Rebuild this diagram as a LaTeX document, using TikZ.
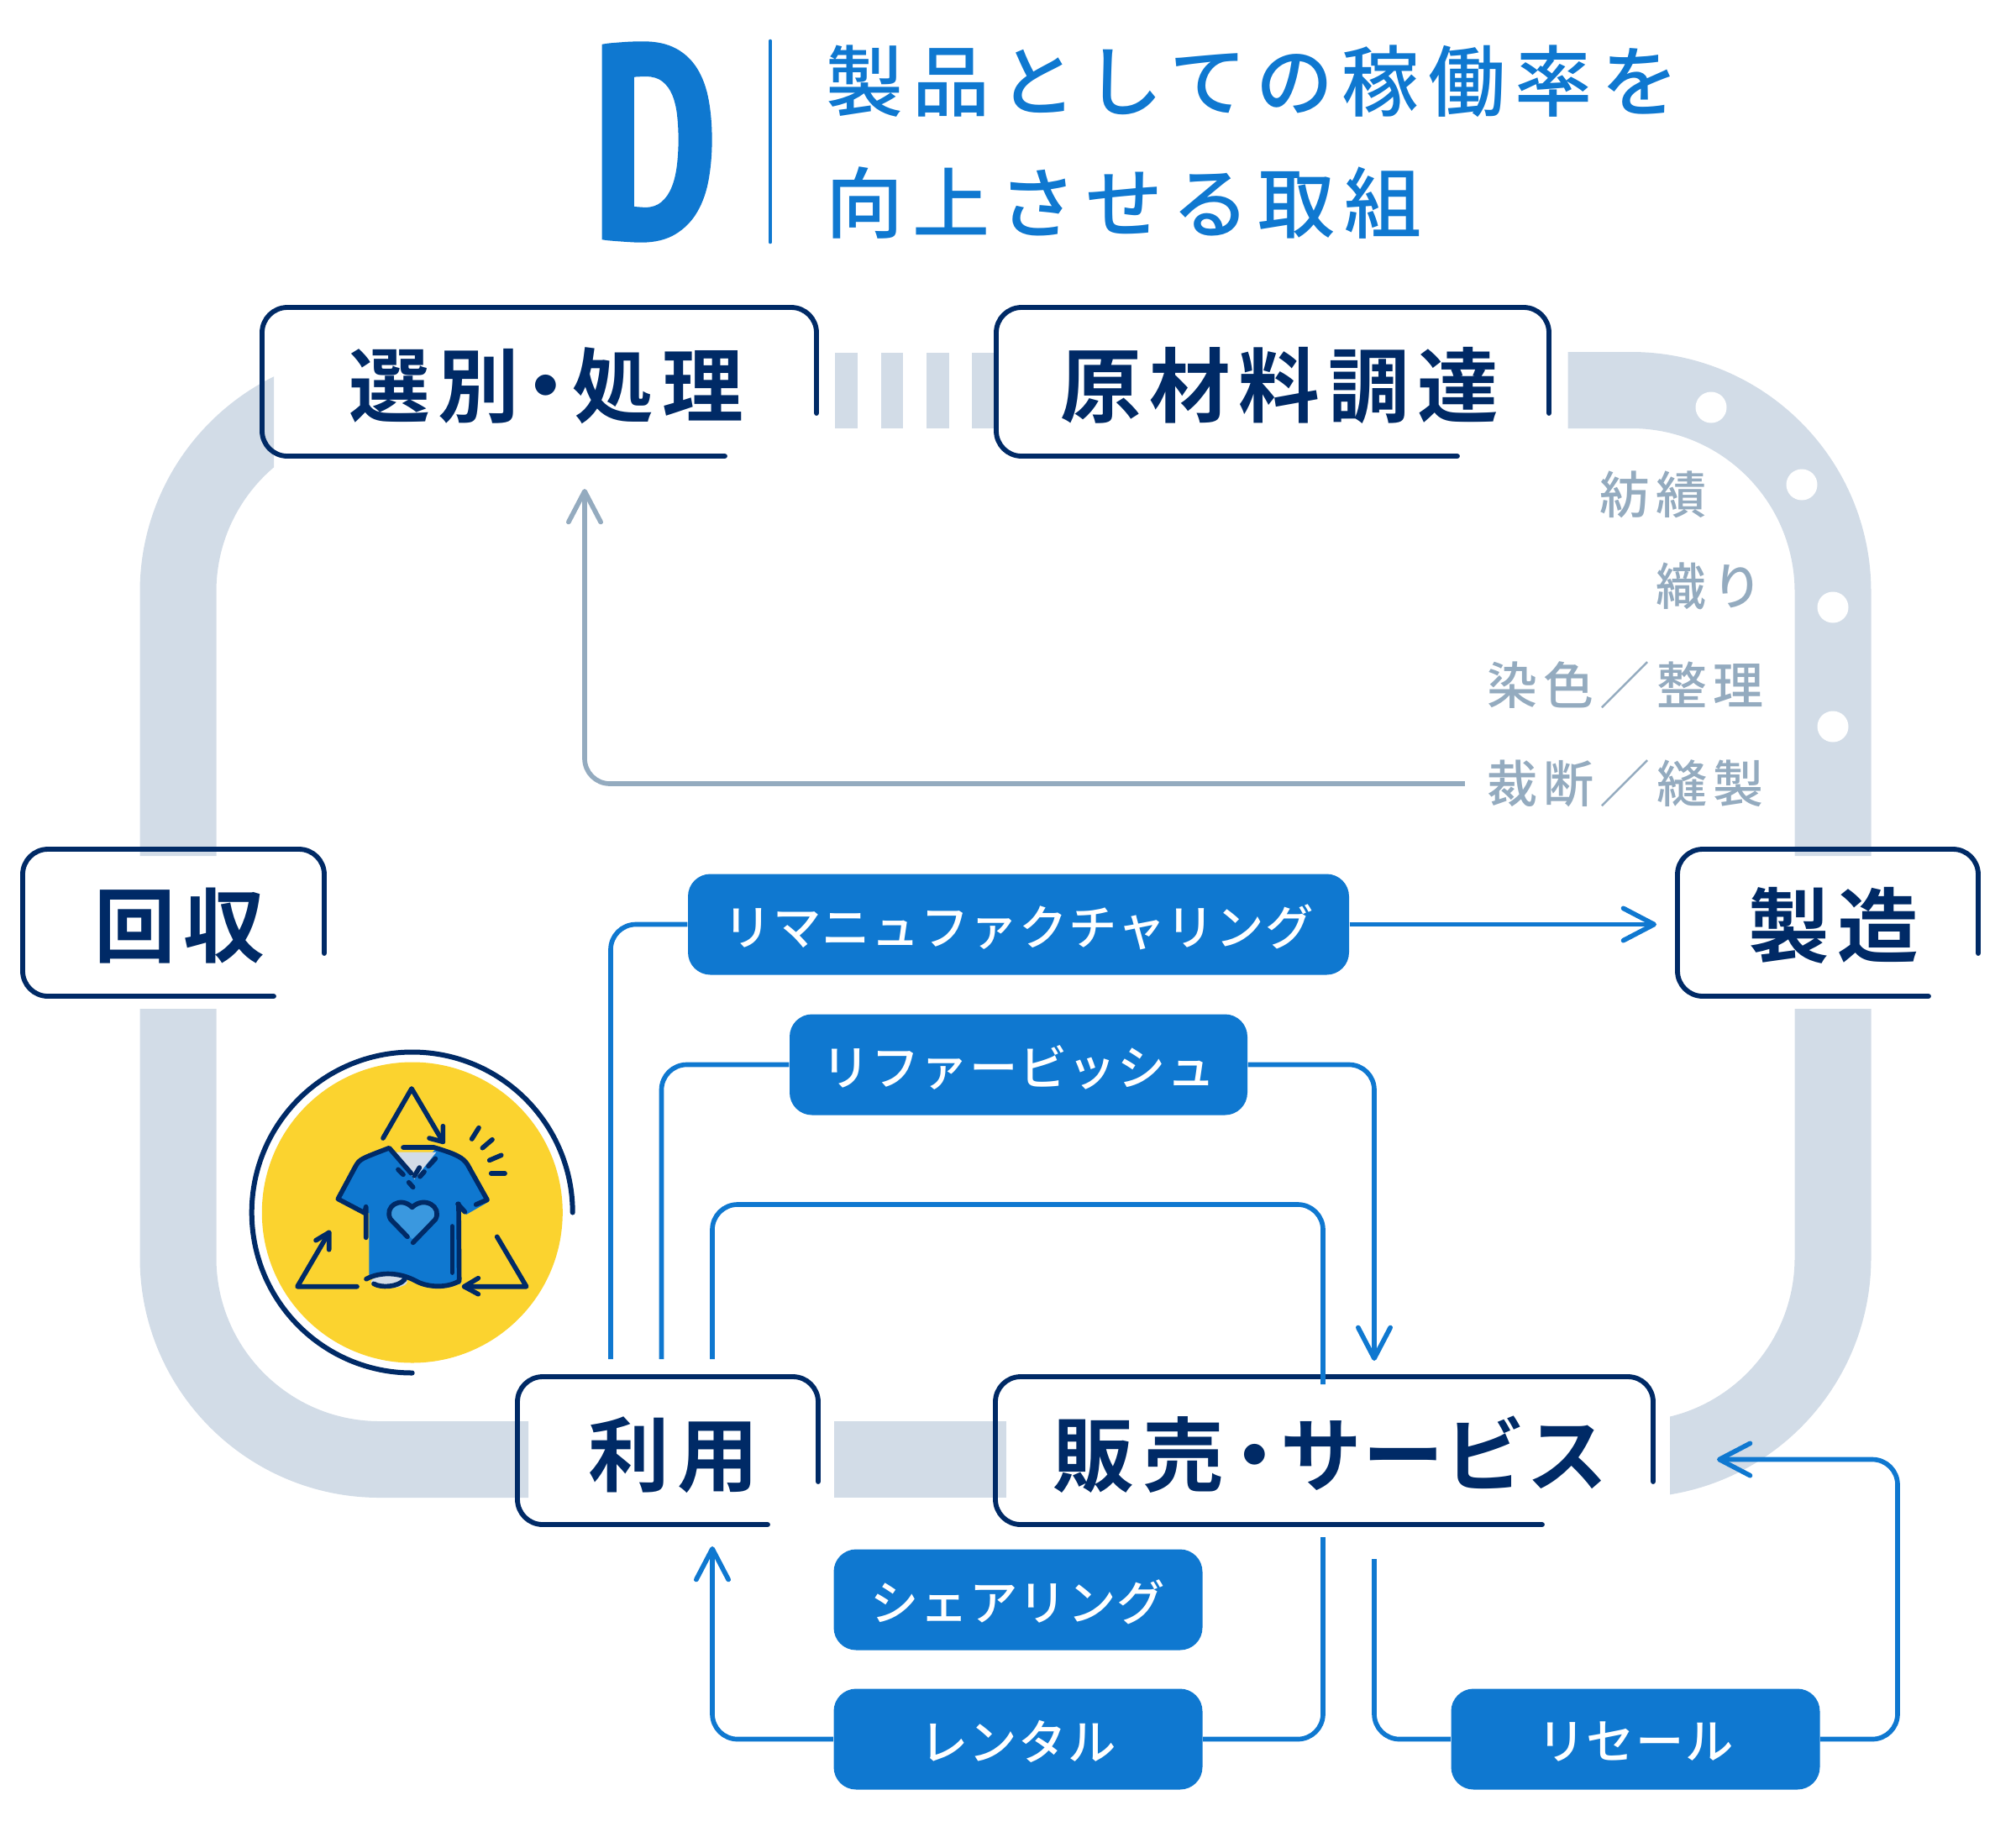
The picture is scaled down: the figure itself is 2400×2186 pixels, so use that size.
\documentclass[tikz,border=0pt]{standalone}
\usepackage{fontspec}
\usetikzlibrary{arrows.meta}
\setmainfont{Noto Sans CJK JP}
\newfontfamily\jpm[LetterSpace=11.8]{Noto Sans CJK JP Medium}
\newfontfamily\jpb[LetterSpace=10]{Noto Sans CJK JP}[BoldFont={Noto Sans CJK JP Bold}]
\newfontfamily\jpp[LetterSpace=2.3]{Noto Sans CJK JP Medium}
\newfontfamily\jpg[LetterSpace=12]{Noto Sans CJK JP Medium}
\newfontfamily\dfont[FakeBold=1.2]{PT Sans Narrow Bold}
\newcommand{\pilltext}[1]{\raisebox{-.9pt}[\height][\depth]{#1}}
\definecolor{navy}{HTML}{002A66}
\definecolor{blue}{HTML}{0F78D0}
\definecolor{track}{HTML}{D2DCE7}
\definecolor{graytxt}{HTML}{94ABBF}
\definecolor{sun}{HTML}{FBD32F}
\definecolor{heart}{HTML}{3A98DF}
\tikzset{
 trackline/.style={draw=track,line width=27.3pt},
 trackrect/.style={fill=track,draw=none},
 boxline/.style={draw=navy,line width=1.75pt,line cap=round,rounded corners=9pt},
 boxtext/.style={font=\fontsize{29}{29}\selectfont\jpb\bfseries,text=navy,inner sep=0pt},
 pill/.style={fill=blue,rounded corners=8pt,text=white,font=\fontsize{17.2}{17.5}\selectfont\jpp,inner sep=0pt,minimum height=36pt},
 conn/.style={draw=blue,line width=1.7pt,rounded corners=9pt},
 arr/.style={-{Straight Barb[length=11pt,width=11.5pt,line width=1.7pt,round]}},
 graytext/.style={font=\fontsize{18}{18}\selectfont\jpg,text=graytxt,inner sep=0pt},
 grayconn/.style={draw=graytxt,line width=1.7pt,rounded corners=9pt},
 icon/.style={draw=navy,line width=1.7pt,line cap=round,line join=round},
}
\newcommand{\obox}[6]{\draw[boxline] (#3,#5) -- (#3,#2) -- (#1,#2) -- (#1,#4) -- (#6,#4);}
\begin{document}
\begin{tikzpicture}[x=0.3pt,y=-0.3pt]
\useasboundingbox (0,0) rectangle (2400,2186);
% track
\draw[trackline] (1866.5,464.5) [rounded corners=72pt] -- (2182,464.5) -- (2182,1019);
\begin{scope}
\clip (1988,1150) rectangle (2300,1850);
\draw[trackline] (2182,1201) [rounded corners=72pt] -- (2182,1737.5) -- (1700,1737.5);
\end{scope}
\fill[trackrect] (992.5,1692) rectangle (1198,1783);
\draw[trackline] (629,1737.5) [rounded corners=72pt] -- (212,1737.5) -- (212,1201);
\begin{scope}
\clip (100,300) rectangle (326,1100);
\draw[trackline] (212,1019) [rounded corners=72pt] -- (212,464.5) -- (700,464.5);
\end{scope}
\fill[trackrect] (994,419.5) rectangle (1021,510);
\fill[trackrect] (1049,419.5) rectangle (1075,510);
\fill[trackrect] (1103,419.5) rectangle (1130,510);
\fill[trackrect] (1157,419.5) rectangle (1186,510);
\foreach \p/\q in {2037/485,2145/577,2182/723,2182/865} \fill[white] (\p,\q) circle[radius=18.5];
% header
\node[inner sep=0pt,text=blue,xscale=0.85,font=\fontsize{98}{98}\selectfont\dfont] (dletter) at (780,169) {D};
\coordinate (ruleA) at (917,49);
\coordinate (ruleB) at (917,288);
\draw[blue,line width=1.4pt,line cap=round] (ruleA) -- (ruleB);
\node[anchor=west,inner sep=0pt,text=blue,font=\fontsize{27.6}{28}\selectfont\jpm] (title1) at (983,97) {製品としての稼働率を};
\node[anchor=west,inner sep=0pt,text=blue,font=\fontsize{27.6}{28}\selectfont\jpm] (title2) at (983,242) {向上させる取組};
% stage boxes
\obox{312}{366}{972}{543}{492}{863}
\obox{1186}{366}{1844}{543}{492}{1735}
\obox{27}{1011}{386}{1186}{1135}{326}
\obox{1997}{1011}{2355}{1186}{1135}{2296}
\obox{616}{1639}{974}{1815}{1764}{914}
\obox{1185}{1639}{1968}{1815}{1764}{1836}
\node[boxtext] (sort) at (650,459) {選別\kern-.17em・\kern-.17em処理};
\node[boxtext] (raw) at (1523,459) {原材料調達};
\node[boxtext] (collect) at (214,1102) {回収};
\node[boxtext] (make) at (2183,1102) {製造};
\node[boxtext] (use) at (802,1732) {利用};
\node[boxtext] (sale) at (1584,1732) {販売\kern-.12em・\kern-.18emサ\kern.01emー\kern.01emビ\kern.01emス};
% grey texts
\node[graytext,anchor=east] (g1) at (2032,589) {紡績};
\node[graytext,anchor=east] (g2) at (2099,698) {織り};
\node[graytext,anchor=east] (g3) at (2100,816) {染色／整理};
\node[graytext,anchor=east] (g4) at (2100,933) {裁断／縫製};
\coordinate (sortTip) at (696,582);
\draw[grayconn,arr] (g4.west) ++(-26,0) -| (sortTip);
% pills
\node[pill,minimum width=236.1pt] (remanu) at (1212.5,1100.5) {\pilltext{リマニュファクチャリング}};
\node[pill,minimum width=163.5pt] (refurb) at (1212.5,1267.5) {\pilltext{リファービッシュ}};
\node[pill,minimum width=131.7pt] (share) at (1212,1904.5) {\pilltext{シェアリング}};
\node[pill,minimum width=131.7pt] (rental) at (1212,2070.5) {\pilltext{レンタル}};
\node[pill,minimum width=131.7pt] (resale) at (1947,2070.5) {\pilltext{リセール}};
\coordinate (a1) at (727,1618);
\coordinate (a2) at (787.5,1618);
\coordinate (a3) at (848,1618);
\coordinate (a3b) at (848,1434);
\coordinate (a3c) at (1575,1434);
\coordinate (a3d) at (1575,1648);
\coordinate (t1) at (1972,1100.5);
\coordinate (t2) at (1636,1620);
\coordinate (t3) at (848,1841);
\coordinate (b1) at (1575,1830);
\coordinate (b2) at (1636,1856);
\coordinate (c1) at (2259,2070.5);
\coordinate (c2) at (2259,1737.5);
\coordinate (t4) at (2044,1737.5);
\draw[conn] (remanu.west) -| (a1);
\draw[conn,arr] (remanu.east) -- (t1);
\draw[conn] (refurb.west) -| (a2);
\draw[conn,arr] (refurb.east) -| (t2);
\draw[conn] (a3) -- (a3b) -- (a3c) -- (a3d);
\draw[conn,arr] (rental.west) -| (t3);
\draw[conn] (rental.east) -| (b1);
\draw[conn] (resale.west) -| (b2);
\draw[conn,arr] (resale.east) -- (c1) -- (c2) -- (t4);
% icon
\fill[sun] (490.8,1443.5) circle[radius=179];
\draw[navy,line width=1.8pt,line cap=round] (681.7,1443.5) arc[start angle=0,end angle=-270,radius=191];
\begin{scope}[shift={(250,1220)},x=0.1pt,y=-0.1pt]
\fill[blue] (450,622) -- (525,495) .. controls (545,470) .. (640,442) -- (720,530) -- (810,440) .. controls (880,462) and (905,475) .. (920,500) -- (995,632) -- (915,678) -- (895,650) -- (895,925) .. controls (800,950) and (740,920) .. (650,890) -- (568,900) -- (568,672) -- (550,672) -- cycle;
\fill[track] (665,455) -- (808,455) -- (730,552) -- cycle;
\fill[track] (640,918) ellipse[x radius=65,y radius=22];
\draw[icon] (618,405) -- (720,228) -- (832,418);
\draw[icon] (783,405) -- (832,418) -- (832,362);
\draw[icon] (1025,757) -- (1130,935) -- (908,935);
\draw[icon] (958,905) -- (908,935) -- (958,962);
\draw[icon] (525,935) -- (312,935) -- (425,742);
\draw[icon] (378,770) -- (425,742) -- (425,803);
\draw[icon] (935,408) -- (960,368);
\draw[icon] (973,440) -- (1008,410);
\draw[icon] (998,484) -- (1040,466);
\draw[icon] (1004,531) -- (1053,531);
\draw[icon] (557,760) -- (557,650) -- (552,672) -- (457,622) -- (520,505) .. controls (535,480) .. (640,440) -- (718,530);
\draw[icon] (672,517) -- (690,535);
\draw[icon] (710,563) -- (725,580);
\draw[icon] (730,540) -- (748,510);
\draw[icon] (750,542) -- (765,525);
\draw[icon] (780,505) -- (805,478);
\draw[icon] (690,438) -- (800,438) .. controls (880,462) and (905,475) .. (920,500) -- (990,625) -- (950,642);
\draw[icon] (885,640) -- (910,668);
\draw[icon] (888,640) -- (890,910);
\draw[icon] (865,720) -- (865,885);
\draw[icon] (558,908) .. controls (610,880) and (680,885) .. (735,915) .. controls (780,940) and (850,940) .. (890,915);
\draw[icon] (585,925) .. controls (610,940) and (670,938) .. (695,910);
\fill[heart] (722,765) -- (645,690) .. controls (620,650) and (680,615) .. (722,655) .. controls (765,615) and (830,650) .. (805,690) -- cycle;
\draw[icon] (705,757) -- (645,695) .. controls (620,650) and (680,610) .. (722,652) .. controls (765,610) and (830,650) .. (805,695) -- (725,778);
\end{scope}
\end{tikzpicture}
\end{document}
